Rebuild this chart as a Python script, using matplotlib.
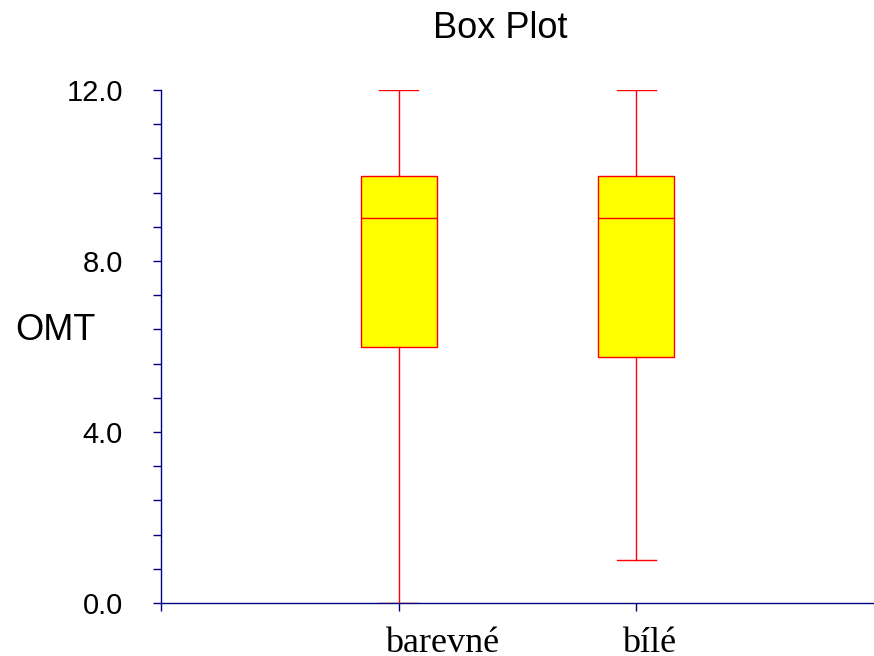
import numpy as np
import matplotlib
matplotlib.use("Agg")
import matplotlib.pyplot as plt
from matplotlib.ticker import MultipleLocator
from matplotlib.transforms import ScaledTranslation

# Five-number summaries per group (min, Q1, median, Q3, max)
groups = ["barevné", "bílé"]
whisker_low = [0.0, 1.0]
q1 = [6.0, 5.75]
median = [9.0, 9.0]
q3 = [10.0, 10.0]
whisker_high = [12.0, 12.0]
positions = [1, 2]

AXIS_COLOR = "#000080"
EDGE = "red"
FILL = "yellow"

fig = plt.figure(figsize=(8.74, 6.56), dpi=100)
ax = fig.add_axes([161 / 874, 53 / 656, 713 / 874, 513 / 656])

stats = []
for i, g in enumerate(groups):
    stats.append({
        "label": g,
        "whislo": whisker_low[i],
        "q1": q1[i],
        "med": median[i],
        "q3": q3[i],
        "whishi": whisker_high[i],
        "fliers": [],
    })

ax.bxp(
    stats,
    positions=positions,
    widths=0.32,
    patch_artist=True,
    showfliers=False,
    boxprops=dict(facecolor=FILL, edgecolor=EDGE, linewidth=1),
    medianprops=dict(color=EDGE, linewidth=1),
    whiskerprops=dict(color=EDGE, linewidth=1),
    capprops=dict(color=EDGE, linewidth=1),
    capwidths=0.165,
)

ax.set_xlim(0, 3)
ax.set_ylim(0, 12)

for side in ("top", "right"):
    ax.spines[side].set_visible(False)
for side in ("left", "bottom"):
    ax.spines[side].set_color(AXIS_COLOR)
    ax.spines[side].set_linewidth(1)

ax.set_xticks([0] + positions)
ax.set_xticklabels([])
# category labels start a little left of their tick, below the axis
label_tf = ax.get_xaxis_transform() + ScaledTranslation(-0.14, -0.49, fig.dpi_scale_trans)
for pos, g in zip(positions, groups):
    ax.text(pos, 0, g, transform=label_tf, fontfamily="Liberation Serif",
            fontsize=26, ha="left", va="baseline")

ax.yaxis.set_major_locator(MultipleLocator(4))
ax.yaxis.set_minor_locator(MultipleLocator(0.8))
ax.set_yticklabels([f"{v:.1f}" for v in ax.get_yticks()],
                   fontfamily="Liberation Sans", fontsize=21)
ax.tick_params(axis="both", which="both", direction="out", color=AXIS_COLOR,
               length=6, width=1)
ax.tick_params(axis="y", which="major", pad=21.5)

fig.text(55 / 874, 1 - 331 / 656, "OMT", fontfamily="Liberation Sans",
         fontsize=26, ha="center", va="center")
fig.text(500 / 874, 1 - 28 / 656, "Box Plot", fontfamily="Liberation Sans",
         fontsize=26, ha="center", va="center")

fig.savefig("out.png", dpi=100)
